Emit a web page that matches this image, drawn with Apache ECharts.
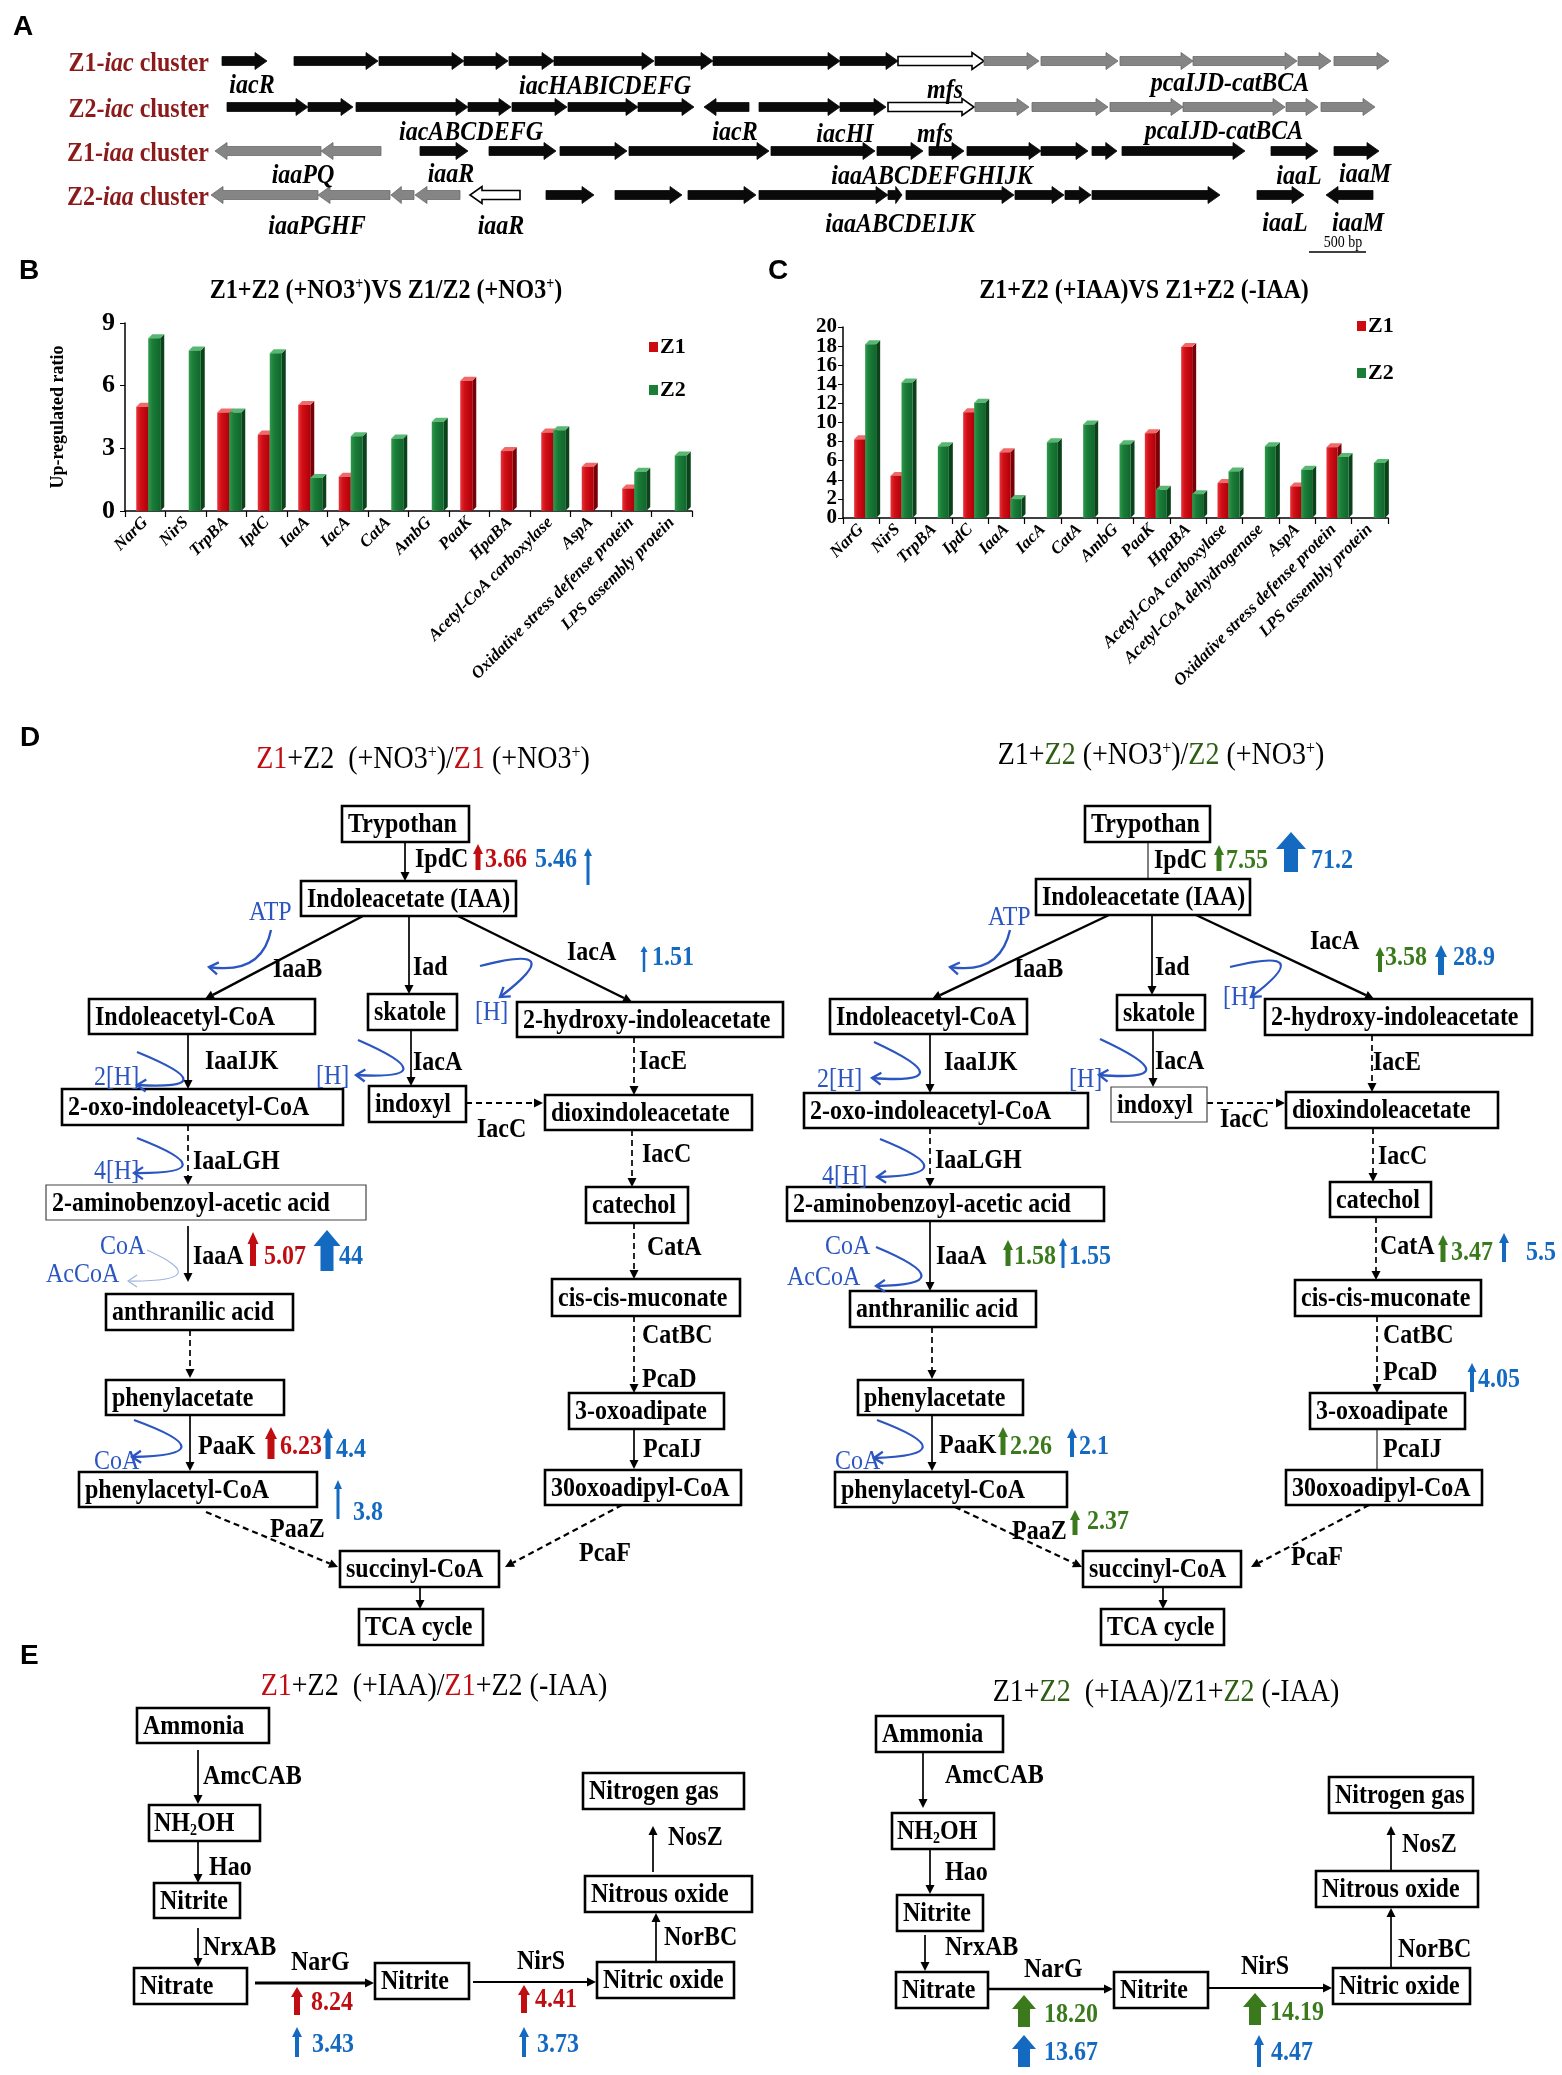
<!DOCTYPE html>
<html><head><meta charset="utf-8">
<script src="https://cdn.jsdelivr.net/npm/echarts@6/dist/echarts.min.js"></script>
<style>html,body{margin:0;padding:0;background:#fff}#c{width:1562px;height:2075px}</style>
</head><body><div id="c"></div>
<script>
// ---------------- DATA ----------------
const catsB = ['NarG','NirS','TrpBA','IpdC','IaaA','IacA','CatA','AmbG','PaaK','HpaBA','Acetyl-CoA carboxylase','AspA','Oxidative stress defense protein','LPS assembly protein'];
const z1B = [4.99, null, 4.72, 3.66, 5.07, 1.64, null, null, 6.23, 2.87, 3.76, 2.12, 1.08, null];
const z2B = [8.27, 7.68, 4.72, 7.55, 1.58, 3.58, 3.47, 4.27, null, null, 3.86, null, 1.88, 2.66];
const ticksB = [0, 3, 6, 9];

const catsC = ['NarG','NirS','TrpBA','IpdC','IaaA','IacA','CatA','AmbG','PaaK','HpaBA','Acetyl-CoA carboxylase','Acetyl-CoA dehydrogenase','AspA','Oxidative stress defense protein','LPS assembly protein'];
const z1C = [8.24, 4.41, null, 11.08, 6.88, null, null, null, 8.88, 17.91, 3.66, null, 3.31, 7.41, null];
const z2C = [18.20, 14.19, 7.51, 12.06, 1.98, 7.93, 9.79, 7.72, 2.96, 2.50, 4.88, 7.51, 5.06, 6.39, 5.76];
const ticksC = [0, 2, 4, 6, 8, 10, 12, 14, 16, 18, 20];

// Panel D fold changes (strain-specific value, total value)
const dLeftGenes  = ['IpdC', 'IacA', 'IaaA', 'PaaK', 'PaaZ'];
const dLeftZ1     = [3.66, null, 5.07, 6.23, null];
const dLeftBlue   = [5.46, 1.51, 44, 4.4, 3.8];
const dRightGenes = ['IpdC', 'IacA', 'IaaA', 'CatA', 'PcaD', 'PaaK', 'PaaZ'];
const dRightZ2    = [7.55, 3.58, 1.58, 3.47, null, 2.26, 2.37];
const dRightBlue  = [71.2, 28.9, 1.55, 5.5, 4.05, 2.1, null];
// Panel E fold changes
const eGenes   = ['NarG', 'NirS'];
const eLeftZ1  = ['8.24', '4.41'];
const eLeftBl  = ['3.43', '3.73'];
const eRightZ2 = ['18.20', '14.19'];
const eRightBl = ['13.67', '4.47'];

// ---------------- STYLE HELPERS ----------------
const F = 'Liberation Serif';
const RED = '#c00d12', GRN = '#3a7a1c', BLU = '#1469c0', CBL = '#2b55c0', TGRN = '#2d5e14', CLR = '#8b1a1a';
const g = [];
function txt(x, y, s, o) {
  o = o || {};
  const st = {text: s, x: 0, y: 0, fill: o.c || '#000', fontFamily: o.f || F,
    fontWeight: o.w || 'bold', fontStyle: o.it ? 'italic' : 'normal', fontSize: o.s || 24,
    align: o.a || 'left', verticalAlign: o.v || 'middle'};
  if (o.rich) st.rich = o.rich;
  g.push({type: 'text', x: x, y: y, silent: true, scaleX: o.sx || 1, scaleY: o.sy || 1.13, style: st, z: 10});
}
function box(b, s, thin) {
  g.push({type: 'rect', shape: {x: b[0], y: b[1], width: b[2] - b[0], height: b[3] - b[1]},
    style: {fill: '#fff', stroke: thin ? '#444' : '#000', lineWidth: thin ? 1.2 : 2.6}, z: 5});
  if (s === 'NH2OH') {
    txt(b[0] + 5, (b[1] + b[3]) / 2 + 1, '{a|NH}{s|2}{a|OH}', {rich: {
      a: {fontFamily: F, fontWeight: 'bold', fontSize: 24, fill: '#000'},
      s: {fontFamily: F, fontWeight: 'bold', fontSize: 14, fill: '#000', verticalAlign: 'bottom', padding: [12, 0, 0, 0]}}});
  } else txt(b[0] + 6, (b[1] + b[3]) / 2 + 1, s);
}
function arr(a, o) {
  o = o || {};
  const [x1, y1, x2, y2] = a;
  const lw = o.lw || 1.7, hl = o.hl || 9, hw = o.hw || 4.5, c = o.c || '#000';
  const dx = x2 - x1, dy = y2 - y1, L = Math.hypot(dx, dy), ux = dx / L, uy = dy / L;
  const bx = x2 - ux * hl, by = y2 - uy * hl;
  g.push({type: 'line', shape: {x1: x1, y1: y1, x2: o.nohead ? x2 : bx, y2: o.nohead ? y2 : by},
    style: {stroke: c, lineWidth: lw, lineDash: o.dash ? [6, 4] : null}, z: 4});
  if (!o.nohead) g.push({type: 'polygon', shape: {points: [[x2, y2], [bx - uy * hw, by + ux * hw], [bx + uy * hw, by - ux * hw]]},
    style: {fill: c}, z: 4});
}
function curve(p0, cp, p1, o) {
  o = o || {};
  const c = o.c || CBL, lw = o.lw || 2.3;
  g.push({type: 'bezierCurve', shape: {x1: p0[0], y1: p0[1], cpx1: cp[0], cpy1: cp[1], x2: p1[0], y2: p1[1]},
    style: {stroke: c, lineWidth: lw, fill: null}, z: 6});
  const dx = p1[0] - cp[0], dy = p1[1] - cp[1], L = Math.hypot(dx, dy), ux = dx / L, uy = dy / L, h = 9, w = 6;
  const bx = p1[0] - ux * h, by = p1[1] - uy * h;
  g.push({type: 'polyline', shape: {points: [[bx - uy * w, by + ux * w], [p1[0], p1[1]], [bx + uy * w, by - ux * w]]},
    style: {stroke: c, lineWidth: lw, fill: null}, z: 6});
}
function up(cx, yt, yb, sw, hw, hh, c) {
  g.push({type: 'polygon', shape: {points: [[cx, yt], [cx + hw / 2, yt + hh], [cx + sw / 2, yt + hh], [cx + sw / 2, yb],
    [cx - sw / 2, yb], [cx - sw / 2, yt + hh], [cx - hw / 2, yt + hh]]}, style: {fill: c}, z: 7});
}
function gene(x1, x2, y, dir, col) {
  const sh = 9, hh = 17, hl = Math.min(12, (x2 - x1) * 0.45);
  let pts;
  if (dir > 0) pts = [[x1, y - sh / 2], [x2 - hl, y - sh / 2], [x2 - hl, y - hh / 2], [x2, y], [x2 - hl, y + hh / 2], [x2 - hl, y + sh / 2], [x1, y + sh / 2]];
  else pts = [[x2, y - sh / 2], [x1 + hl, y - sh / 2], [x1 + hl, y - hh / 2], [x1, y], [x1 + hl, y + hh / 2], [x1 + hl, y + sh / 2], [x2, y + sh / 2]];
  const fill = col === 'k' ? '#0a0a0a' : col === 'g' ? '#858585' : '#fff';
  const stroke = col === 'w' ? '#000' : (col === 'g' ? '#6a6a6a' : '#0a0a0a');
  g.push({type: 'polygon', shape: {points: pts}, style: {fill: fill, stroke: stroke, lineWidth: col === 'w' ? 1.6 : 0.8}, z: 3});
}
function titleRich(cx, y, s, rich) { txt(cx, y, s, {a: 'center', rich: rich}); }
function richSet(size, weight) {
  const base = {fontFamily: F, fontWeight: weight, fontSize: size};
  return {k: Object.assign({fill: '#000'}, base), r: Object.assign({fill: RED}, base), g: Object.assign({fill: TGRN}, base),
    p: {fontFamily: F, fontWeight: weight, fontSize: Math.round(size * 0.58), fill: '#000', verticalAlign: 'top'}};
}

// ---------------- PANEL LETTERS ----------------
[['A', 13, 27], ['B', 19, 271], ['C', 768, 271], ['D', 20, 738], ['E', 20, 1656]].forEach(l =>
  txt(l[1], l[2], l[0], {f: 'Liberation Sans', s: 28, c: '#000', sy: 1}));

// ---------------- PANEL A ----------------
const rowY = [61, 107, 151, 195];
const rowNames = [['Z1-', 'iac'], ['Z2-', 'iac'], ['Z1-', 'iaa'], ['Z2-', 'iaa']];
rowNames.forEach((n, i) => txt(209, rowY[i] + 3, '{n|' + n[0] + '}{i|' + n[1] + '}{n| cluster}', {a: 'right', rich: {
  n: {fontFamily: F, fontWeight: 'bold', fontSize: 24, fill: CLR},
  i: {fontFamily: F, fontWeight: 'bold', fontStyle: 'italic', fontSize: 24, fill: CLR}}}));
const genesA = [
  [[222,267,1,'k'],[294,378,1,'k'],[379,464,1,'k'],[464,508,1,'k'],[509,554,1,'k'],[554,654,1,'k'],[655,713,1,'k'],[713,840,1,'k'],[840,898,1,'k'],[898,984,1,'w'],[984,1039,1,'g'],[1041,1118,1,'g'],[1120,1193,1,'g'],[1193,1297,1,'g'],[1298,1331,1,'g'],[1334,1389,1,'g']],
  [[227,308,1,'k'],[308,353,1,'k'],[356,468,1,'k'],[468,511,1,'k'],[512,567,1,'k'],[568,638,1,'k'],[638,694,1,'k'],[704,749,-1,'k'],[759,840,1,'k'],[840,886,1,'k'],[888,974,1,'w'],[975,1029,1,'g'],[1032,1108,1,'g'],[1110,1183,1,'g'],[1183,1285,1,'g'],[1286,1318,1,'g'],[1321,1375,1,'g']],
  [[215,321,-1,'g'],[321,381,-1,'g'],[420,468,1,'k'],[489,556,1,'k'],[560,627,1,'k'],[629,769,1,'k'],[771,875,1,'k'],[877,923,1,'k'],[929,964,1,'k'],[967,1041,1,'k'],[1041,1088,1,'k'],[1092,1117,1,'k'],[1122,1245,1,'k'],[1271,1318,1,'k'],[1334,1379,1,'k']],
  [[211,318,-1,'g'],[318,390,-1,'g'],[391,414,-1,'g'],[415,460,-1,'g'],[470,520,-1,'w'],[546,594,1,'k'],[615,682,1,'k'],[688,756,1,'k'],[759,888,1,'k'],[888,902,1,'k'],[906,1014,1,'k'],[1015,1064,1,'k'],[1065,1091,1,'k'],[1092,1220,1,'k'],[1257,1304,1,'k'],[1326,1373,-1,'k']]
];
genesA.forEach((row, i) => row.forEach(a => gene(a[0], a[1], rowY[i], a[2], a[3])));
const geneLabels = [
  ['iacR',252,86],['iacHABICDEFG',605,87],['mfs',945,91],['pcaIJD-catBCA',1230,84],
  ['iacABCDEFG',471,133],['iacR',735,133],['iacHI',845,135],['mfs',935,135],['pcaIJD-catBCA',1224,132],
  ['iaaPQ',303,176],['iaaR',451,175],['iaaABCDEFGHIJK',932,177],['iaaL',1299,177],['iaaM',1365,175],
  ['iaaPGHF',317,227],['iaaR',501,227],['iaaABCDEIJK',900,225],['iaaL',1285,224],['iaaM',1358,224]];
geneLabels.forEach(l => txt(l[1], l[2], l[0], {a: 'center', it: true, s: 24}));
txt(1343, 243, '500 bp', {a: 'center', w: 'normal', s: 14});
g.push({type: 'line', shape: {x1: 1309, y1: 252, x2: 1366, y2: 252}, style: {stroke: '#000', lineWidth: 1.5}});

// ---------------- PANEL B / C titles ----------------
const rb = richSet(24, 'bold');
titleRich(386, 291, '{k|Z1+Z2 (+NO3}{p|+}{k|)VS Z1/Z2 (+NO3}{p|+}{k|)}', rb);
titleRich(1144, 291, '{k|Z1+Z2 (+IAA)VS Z1+Z2 (-IAA)}', rb);

// ---------------- PANEL D ----------------
const rt = richSet(28, 'normal');
titleRich(423, 760, '{r|Z1}{k|+Z2  (+NO3}{p|+}{k|)/}{r|Z1}{k| (+NO3}{p|+}{k|)}', rt);
titleRich(1161, 756, '{k|Z1+}{g|Z2}{k| (+NO3}{p|+}{k|)/}{g|Z2}{k| (+NO3}{p|+}{k|)}', rt);

const boxesDL = [
  ['Trypothan',[342,806,469,842]],['Indoleacetate (IAA)',[301,881,516,916]],['Indoleacetyl-CoA',[89,999,315,1034]],
  ['skatole',[368,994,457,1030]],['2-hydroxy-indoleacetate',[517,1002,783,1037]],['2-oxo-indoleacetyl-CoA',[62,1089,343,1125]],
  ['indoxyl',[369,1086,466,1122]],['dioxindoleacetate',[545,1095,752,1130]],['2-aminobenzoyl-acetic acid',[46,1185,366,1220],1],
  ['catechol',[586,1187,688,1223]],['anthranilic acid',[106,1294,293,1330]],['phenylacetate',[106,1380,284,1415]],
  ['phenylacetyl-CoA',[79,1472,317,1507]],['cis-cis-muconate',[552,1279,740,1316]],['3-oxoadipate',[569,1393,724,1429]],
  ['30oxoadipyl-CoA',[545,1470,741,1505]],['succinyl-CoA',[340,1551,499,1587]],['TCA cycle',[359,1609,483,1645]]];
const boxesDR = [
  ['Trypothan',[1085,806,1210,842]],['Indoleacetate (IAA)',[1036,879,1250,915]],['Indoleacetyl-CoA',[830,999,1027,1034]],
  ['skatole',[1117,995,1205,1030]],['2-hydroxy-indoleacetate',[1265,999,1532,1035]],['2-oxo-indoleacetyl-CoA',[804,1093,1088,1128]],
  ['indoxyl',[1111,1087,1207,1122],1],['dioxindoleacetate',[1286,1092,1498,1128]],['2-aminobenzoyl-acetic acid',[787,1187,1104,1221]],
  ['catechol',[1330,1182,1431,1217]],['anthranilic acid',[850,1291,1036,1327]],['phenylacetate',[858,1380,1023,1415]],
  ['phenylacetyl-CoA',[835,1472,1067,1507]],['cis-cis-muconate',[1295,1280,1481,1316]],['3-oxoadipate',[1310,1393,1465,1429]],
  ['30oxoadipyl-CoA',[1286,1470,1482,1505]],['succinyl-CoA',[1083,1551,1241,1587]],['TCA cycle',[1101,1609,1224,1645]]];
boxesDL.concat(boxesDR).forEach(b => box(b[1], b[0], b[2]));

const arrowsD = [
  [[405,842,405,881]],[[363,916,205,999],{lw:2.4}],[[409,916,409,994]],[[458,916,632,1002],{lw:2.4}],
  [[188,1034,188,1089]],[[411,1030,411,1086]],[[634,1037,634,1095],{dash:1}],[[466,1103,543,1103],{dash:1,lw:2}],
  [[188,1125,188,1185],{dash:1}],[[632,1130,632,1187],{dash:1}],[[188,1226,188,1282]],[[190,1330,190,1378],{dash:1}],
  [[190,1415,190,1471]],[[206,1512,338,1567],{dash:1,lw:2.2}],[[634,1223,634,1279],{dash:1}],[[634,1316,634,1393],{dash:1}],
  [[634,1429,634,1469]],[[622,1505,505,1567],{dash:1,lw:2.2}],[[420,1587,420,1609]],
  [[1148,842,1148,879],{nohead:1,lw:1}],[[1109,915,932,999],{lw:2.4}],[[1152,915,1152,995]],[[1196,915,1374,999],{lw:2.4}],
  [[930,1034,930,1093]],[[1153,1030,1153,1087]],[[1372,1035,1372,1092],{dash:1}],[[1207,1103,1285,1103],{dash:1,lw:2}],
  [[930,1128,930,1187],{dash:1}],[[1373,1128,1373,1182],{dash:1}],[[930,1221,930,1291]],[[932,1327,932,1379],{dash:1}],
  [[932,1415,932,1471]],[[955,1507,1082,1567],{dash:1,lw:2.2}],[[1376,1217,1376,1280],{dash:1}],[[1377,1316,1377,1393],{dash:1}],
  [[1377,1429,1377,1469],{nohead:1,lw:1}],[[1369,1505,1251,1567],{dash:1,lw:2.2}],[[1163,1587,1163,1609]]];
arrowsD.forEach(a => arr(a[0], a[1]));

const enzD = [
  ['IpdC',415,860],['IaaB',273,970],['Iad',413,968],['IacA',567,953],['IaaIJK',205,1062],['IacA',413,1063],['IacE',639,1062],
  ['IacC',477,1130],['IacC',642,1155],['IaaLGH',193,1162],['IaaA',193,1257],['CatA',647,1248],['CatBC',642,1336],['PcaD',642,1380],
  ['PcaIJ',643,1450],['PaaK',198,1447],['PaaZ',270,1530],['PcaF',579,1554],
  ['IpdC',1154,861],['IaaB',1014,970],['Iad',1155,968],['IacA',1310,942],['IaaIJK',944,1063],['IacA',1155,1062],['IacE',1373,1063],
  ['IacC',1220,1120],['IacC',1378,1157],['IaaLGH',935,1161],['IaaA',936,1257],['CatA',1380,1247],['CatBC',1383,1336],['PcaD',1383,1373],
  ['PcaIJ',1383,1450],['PaaK',939,1446],['PaaZ',1012,1532],['PcaF',1291,1558]];
enzD.forEach(e => txt(e[1], e[2], e[0]));

const cofD = [['ATP',249,913],['[H]',475,1013],['2[H]',94,1078],['[H]',316,1077],['4[H]',94,1172],['CoA',100,1247],['AcCoA',46,1275],['CoA',94,1462],
  ['ATP',988,918],['[H]',1223,998],['2[H]',817,1080],['[H]',1069,1080],['4[H]',822,1177],['CoA',825,1247],['AcCoA',787,1278],['CoA',835,1462]];
cofD.forEach(c => txt(c[1], c[2], c[0], {c: CBL, w: 'normal', s: 24}));

// curved cofactor arrows
curve([271,930],[262,975],[209,967]);
curve([480,966],[572,942],[500,997]);
curve([137,1052],[230,1090],[137,1085]);
curve([358,1040],[450,1080],[356,1075]);
curve([137,1138],[230,1174],[134,1173]);
curve([147,1250],[218,1282],[128,1281],{c:'#9fb6dd',lw:1.2});
curve([134,1420],[230,1455],[132,1457]);
curve([1010,930],[1000,975],[950,967]);
curve([1230,967],[1320,945],[1251,997]);
curve([874,1042],[967,1085],[872,1078]);
curve([1100,1039],[1193,1082],[1099,1075]);
curve([880,1139],[970,1175],[877,1177]);
curve([876,1247],[967,1285],[876,1286]);
curve([877,1420],[970,1455],[874,1458]);

// fold-change arrows + numbers (Panel D)
const dLeftPos = {IpdC: {s: [478,844,870,5,10,10, 485,860], b: [588,848,885,3,8,8, 535,860]},
  IacA: {b: [644,946,972,2.5,7,6, 652,958]},
  IaaA: {s: [253,1232,1266,6,11,12, 264,1257], b: [327,1230,1271,13,27,16, 339,1257]},
  PaaK: {s: [271,1427,1459,7,12,12, 280,1447], b: [328,1428,1459,5,10,10, 336,1450]},
  PaaZ: {b: [338,1480,1519,3,8,9, 353,1513]}};
dLeftGenes.forEach((gn, i) => {
  const p = dLeftPos[gn];
  if (dLeftZ1[i] != null) { const q = p.s; up(q[0],q[1],q[2],q[3],q[4],q[5],RED); txt(q[6],q[7],String(dLeftZ1[i]),{c:RED}); }
  if (dLeftBlue[i] != null) { const q = p.b; up(q[0],q[1],q[2],q[3],q[4],q[5],BLU); txt(q[6],q[7],String(dLeftBlue[i]),{c:BLU}); }
});
const dRightPos = {IpdC: {s: [1219,845,871,5,10,10, 1226,861], b: [1291,832,872,14,30,17, 1311,861]},
  IacA: {s: [1380,947,972,4,9,9, 1385,958], b: [1441,945,975,6,12,12, 1453,958]},
  IaaA: {s: [1008,1240,1266,5,10,10, 1014,1257], b: [1063,1238,1268,3,8,8, 1069,1257]},
  CatA: {s: [1443,1235,1262,5,10,10, 1451,1253], b: [1504,1233,1262,4,10,10, 1526,1253]},
  PcaD: {b: [1472,1363,1392,4,9,9, 1478,1380]},
  PaaK: {s: [1003,1427,1455,5,10,10, 1010,1447], b: [1072,1428,1457,4,10,10, 1079,1447]},
  PaaZ: {s: [1075,1510,1535,5,10,10, 1087,1522]}};
dRightGenes.forEach((gn, i) => {
  const p = dRightPos[gn];
  if (dRightZ2[i] != null) { const q = p.s; up(q[0],q[1],q[2],q[3],q[4],q[5],GRN); txt(q[6],q[7],dRightZ2[i].toFixed(2),{c:GRN}); }
  if (dRightBlue[i] != null) { const q = p.b; up(q[0],q[1],q[2],q[3],q[4],q[5],BLU); txt(q[6],q[7],String(dRightBlue[i]),{c:BLU}); }
});

// ---------------- PANEL E ----------------
titleRich(434, 1687, '{r|Z1}{k|+Z2  (+IAA)/}{r|Z1}{k|+Z2 (-IAA)}', rt);
titleRich(1166, 1693, '{k|Z1+}{g|Z2}{k|  (+IAA)/Z1+}{g|Z2}{k| (-IAA)}', rt);
const boxesE = [
  ['Ammonia',[137,1708,269,1743]],['NH2OH',[149,1805,260,1841]],['Nitrite',[154,1883,240,1918]],['Nitrate',[134,1968,247,2004]],
  ['Nitrite',[375,1963,469,1999]],['Nitric oxide',[597,1962,734,1998]],['Nitrous oxide',[585,1876,752,1912]],['Nitrogen gas',[583,1773,744,1809]],
  ['Ammonia',[876,1716,1003,1752]],['NH2OH',[892,1813,994,1849]],['Nitrite',[897,1895,983,1931]],['Nitrate',[896,1972,988,2008]],
  ['Nitrite',[1114,1972,1208,2008]],['Nitric oxide',[1333,1968,1470,2004]],['Nitrous oxide',[1316,1871,1478,1907]],['Nitrogen gas',[1329,1777,1473,1813]]];
boxesE.forEach(b => box(b[1], b[0]));
const arrowsE = [
  [[198,1750,198,1804]],[[198,1841,198,1883]],[[198,1928,198,1967]],[[255,1983,374,1983],{lw:2.8}],[[473,1982,596,1982],{lw:2.2}],
  [[656,1962,656,1913]],[[653,1872,653,1826]],
  [[923,1752,923,1808]],[[930,1849,930,1894]],[[925,1935,925,1971]],[[988,1989,1113,1989],{lw:2.4}],[[1208,1988,1332,1988],{lw:2.2}],
  [[1391,1968,1391,1908]],[[1391,1871,1391,1826]]];
arrowsE.forEach(a => arr(a[0], a[1]));
const enzE = [['AmcCAB',203,1777],['Hao',209,1868],['NrxAB',203,1948],['NarG',291,1963],['NirS',517,1962],['NorBC',664,1938],['NosZ',668,1838],
  ['AmcCAB',945,1776],['Hao',945,1873],['NrxAB',945,1948],['NarG',1024,1970],['NirS',1241,1967],['NorBC',1398,1950],['NosZ',1402,1845]];
enzE.forEach(e => txt(e[1], e[2], e[0]));
const eLPos = {NarG: [[297,1987,2015,6,12,10, 311,2003],[297,2027,2057,4,10,10, 312,2045]],
  NirS: [[524,1985,2013,6,12,10, 535,2000],[524,2027,2057,4,10,10, 537,2045]]};
const eRPos = {NarG: [[1024,1995,2027,12,24,14, 1044,2015],[1024,2035,2067,12,24,14, 1044,2053]],
  NirS: [[1255,1993,2025,12,24,14, 1270,2013],[1259,2035,2067,4,10,10, 1271,2053]]};
eGenes.forEach((gn, i) => {
  let q = eLPos[gn][0]; up(q[0],q[1],q[2],q[3],q[4],q[5],RED); txt(q[6],q[7],eLeftZ1[i],{c:RED});
  q = eLPos[gn][1]; up(q[0],q[1],q[2],q[3],q[4],q[5],BLU); txt(q[6],q[7],eLeftBl[i],{c:BLU});
  q = eRPos[gn][0]; up(q[0],q[1],q[2],q[3],q[4],q[5],GRN); txt(q[6],q[7],eRightZ2[i],{c:GRN});
  q = eRPos[gn][1]; up(q[0],q[1],q[2],q[3],q[4],q[5],BLU); txt(q[6],q[7],eRightBl[i],{c:BLU});
});

// ---------------- BAR CHARTS ----------------
const COL = {
  Z1: {front: new echarts.graphic.LinearGradient(0,0,1,0,[{offset:0,color:'#e8323a'},{offset:0.35,color:'#d00f16'},{offset:1,color:'#b0000a'}]), side:'#780006', top:'#f06a6a', base:'#cc0a10'},
  Z2: {front: new echarts.graphic.LinearGradient(0,0,1,0,[{offset:0,color:'#2f9a4c'},{offset:0.35,color:'#1a7d38'},{offset:1,color:'#11662c'}]), side:'#0a4319', top:'#57b872', base:'#1a7d38'}
};
function bar3d(shift, w, d, col) {
  return function (params, api) {
    const i = api.value(0), v = api.value(1);
    const p0 = api.coord([i, 0]), p1 = api.coord([i, v]);
    const x = p0[0] + shift, yb = p0[1], yt = p1[1];
    return {type: 'group', children: [
      {type: 'polygon', shape: {points: [[x + w, yt], [x + w + d, yt - d], [x + w + d, yb - d], [x + w, yb]]}, style: {fill: col.side}},
      {type: 'polygon', shape: {points: [[x, yt], [x + d, yt - d], [x + w + d, yt - d], [x + w, yt]]}, style: {fill: col.top}},
      {type: 'rect', shape: {x: x, y: yt, width: w, height: yb - yt}, style: {fill: col.front}}
    ]};
  };
}
const toData = arr2 => arr2.map((v, i) => [i, v]).filter(d => d[1] != null);
const axisLbl = {rotate: 45, interval: 0, fontFamily: F, fontWeight: 'bold', fontStyle: 'italic', fontSize: 17, color: '#000', margin: 9};
const cStep = ticksC[1] - ticksC[0];
const cLblStyle = {fontFamily: F, fontWeight: 'bold', fontSize: 21, color: '#000', margin: 6};
const chart = echarts.init(document.getElementById('c'));
chart.setOption({
  backgroundColor: '#fff',
  animation: false,
  legend: [
    {data: ['Z1', 'Z2'], left: 644, top: 331, orient: 'vertical', itemGap: 21, itemWidth: 9, itemHeight: 10, icon: 'rect',
      textStyle: {fontFamily: F, fontWeight: 'bold', fontSize: 22, color: '#000', padding: [0, 0, 0, -3]}},
    {data: ['Z1', 'Z2'], left: 1352, top: 310, orient: 'vertical', itemGap: 25, itemWidth: 9, itemHeight: 10, icon: 'rect',
      textStyle: {fontFamily: F, fontWeight: 'bold', fontSize: 22, color: '#000', padding: [0, 0, 0, -3]}}
  ],
  grid: [
    {left: 125, width: 567, top: 323, height: 188},
    {left: 843, width: 545, top: 327, height: 191}
  ],
  xAxis: [
    {type: 'category', gridIndex: 0, data: catsB, axisLine: {lineStyle: {color: '#000', width: 1.5}},
      axisTick: {show: true, length: 6, lineStyle: {color: '#000', width: 1.2}}, axisLabel: axisLbl},
    {type: 'category', gridIndex: 1, data: catsC, axisLine: {lineStyle: {color: '#000', width: 1.5}},
      axisTick: {show: true, length: 6, lineStyle: {color: '#000', width: 1.2}}, axisLabel: axisLbl}
  ],
  yAxis: [
    {type: 'value', gridIndex: 0, min: ticksB[0], max: ticksB[ticksB.length - 1], interval: ticksB[1] - ticksB[0],
      name: 'Up-regulated ratio', nameLocation: 'middle', nameGap: 58,
      nameTextStyle: {fontFamily: F, fontWeight: 'bold', fontSize: 18, color: '#000'},
      axisLine: {show: true, lineStyle: {color: '#000', width: 1.5}}, axisTick: {show: true, length: 5, lineStyle: {color: '#000'}},
      splitLine: {show: false}, axisLabel: {fontFamily: F, fontWeight: 'bold', fontSize: 26, color: '#000', margin: 10, showMinLabel: true, showMaxLabel: true}},
    // panel C main axis: labels at multiples of 4
    {type: 'value', gridIndex: 1, position: 'left', min: ticksC[0], max: ticksC[ticksC.length - 1], interval: cStep,
      axisLine: {show: true, lineStyle: {color: '#000', width: 1.5}}, axisTick: {show: true, length: 5, lineStyle: {color: '#000'}},
      splitLine: {show: false}, axisLabel: Object.assign({showMinLabel: true, showMaxLabel: true,
        formatter: v => (Math.round(v / cStep) % 2 === 0 ? String(v) : '')}, cLblStyle)},
    // panel C companion axis (same scale) carrying the in-between labels
    {type: 'value', gridIndex: 1, position: 'left', offset: 0, min: ticksC[0], max: ticksC[ticksC.length - 1], interval: cStep,
      axisLine: {show: false}, axisTick: {show: false}, splitLine: {show: false},
      axisLabel: Object.assign({showMinLabel: false, showMaxLabel: false,
        formatter: v => (Math.round(v / cStep) % 2 === 1 ? String(v) : '')}, cLblStyle)}
  ],
  series: [
    {name: 'Z1', type: 'custom', xAxisIndex: 0, yAxisIndex: 0, encode: {x: 0, y: 1}, itemStyle: {color: COL.Z1.base},
      renderItem: bar3d(-9, 12, 4, COL.Z1), data: toData(z1B)},
    {name: 'Z2', type: 'custom', xAxisIndex: 0, yAxisIndex: 0, encode: {x: 0, y: 1}, itemStyle: {color: COL.Z2.base},
      renderItem: bar3d(3, 12, 4, COL.Z2), data: toData(z2B)},
    {name: 'Z1', type: 'custom', xAxisIndex: 1, yAxisIndex: 1, encode: {x: 0, y: 1}, itemStyle: {color: COL.Z1.base},
      renderItem: bar3d(-7, 11, 4, COL.Z1), data: toData(z1C)},
    {name: 'Z2', type: 'custom', xAxisIndex: 1, yAxisIndex: 1, encode: {x: 0, y: 1}, itemStyle: {color: COL.Z2.base},
      renderItem: bar3d(4, 11, 4, COL.Z2), data: toData(z2C)}
  ],
  graphic: {elements: g}
});
</script></body></html>
